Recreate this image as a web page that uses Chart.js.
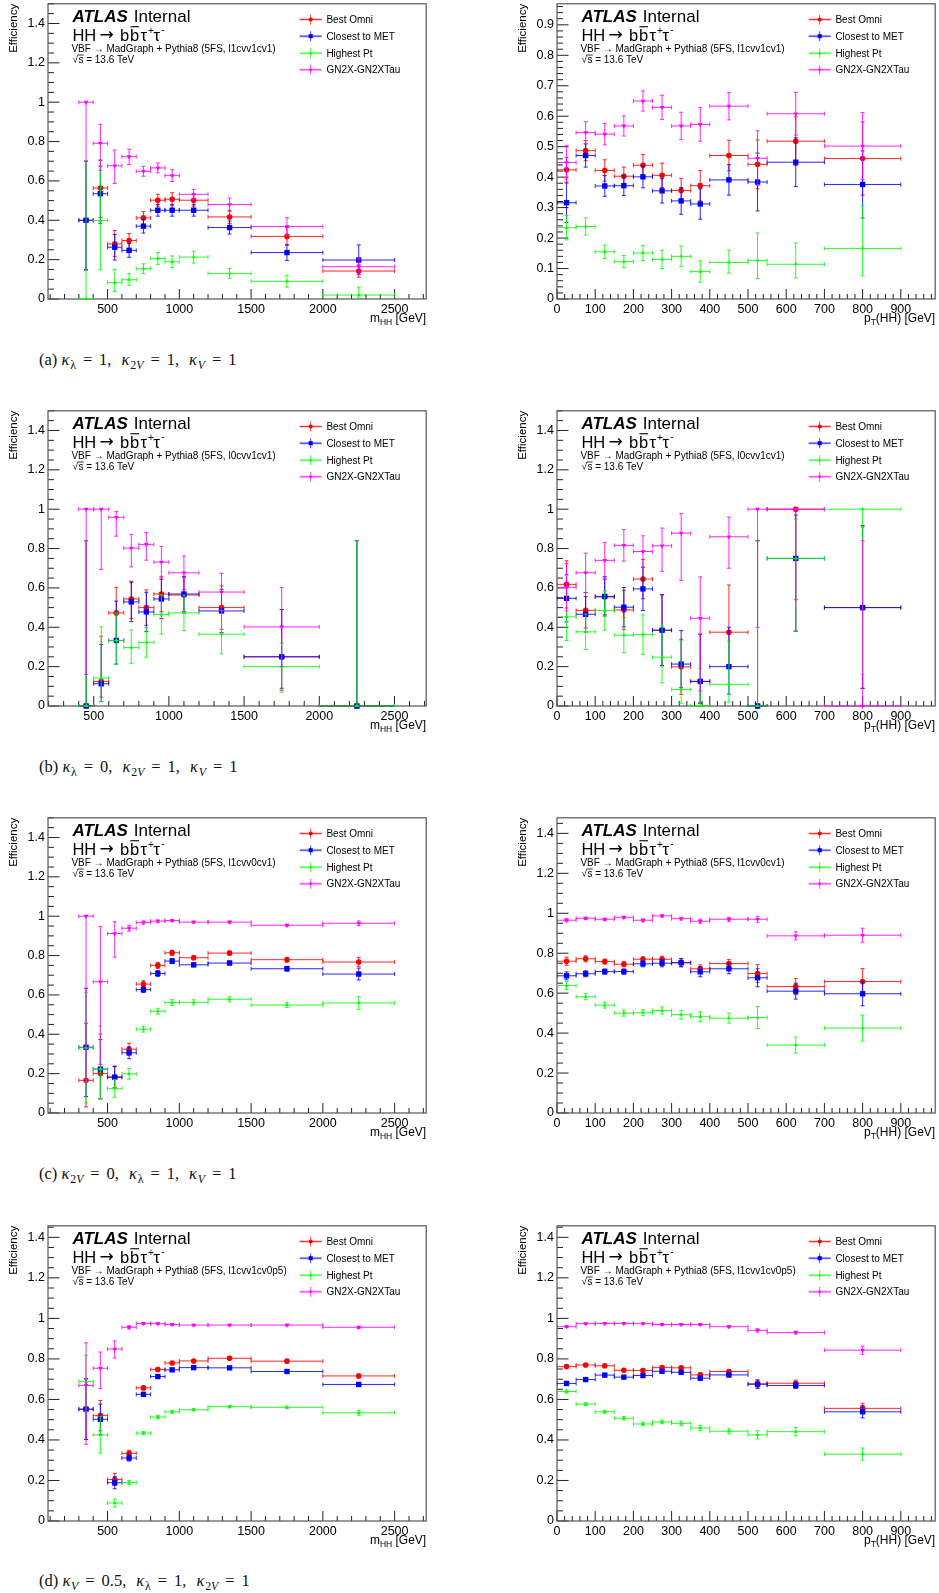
<!DOCTYPE html>
<html lang="en">
<head>
<meta charset="utf-8">
<title>Tau-pair reconstruction efficiency</title>
<script src="https://cdn.jsdelivr.net/npm/chart.js@4.4.1/dist/chart.umd.min.js"></script>
<style>
  html, body { margin: 0; padding: 0; background: #fff; }
  body { position: relative; width: 939px; height: 1593px; overflow: hidden; }
  canvas { position: absolute; }
  .caption { position: absolute; left: 39px; font-family: "Liberation Serif", "DejaVu Serif", serif;
             font-size: 16.5px; line-height: 20px; color: #111; white-space: nowrap; }
  .caption sub { font-size: 72%; vertical-align: -0.3em; line-height: 0; }
  .caption .eq { margin: 0 0.42em; }
  .caption .k { margin-right: 0.05em; }
  .caption .sep { margin-right: 0.36em; }
</style>
</head>
<body>
<div class="caption" style="top:350px">(a) <i class="k">κ</i><sub>λ</sub><span class="eq">=</span>1,<span class="sep"></span> <i class="k">κ</i><sub>2<i>V</i></sub><span class="eq">=</span>1,<span class="sep"></span> <i class="k">κ</i><sub><i>V</i></sub><span class="eq">=</span>1</div>
<div class="caption" style="top:757px">(b) <i class="k">κ</i><sub>λ</sub><span class="eq">=</span>0,<span class="sep"></span> <i class="k">κ</i><sub>2<i>V</i></sub><span class="eq">=</span>1,<span class="sep"></span> <i class="k">κ</i><sub><i>V</i></sub><span class="eq">=</span>1</div>
<div class="caption" style="top:1164px">(c) <i class="k">κ</i><sub>2<i>V</i></sub><span class="eq">=</span>0,<span class="sep"></span> <i class="k">κ</i><sub>λ</sub><span class="eq">=</span>1,<span class="sep"></span> <i class="k">κ</i><sub><i>V</i></sub><span class="eq">=</span>1</div>
<div class="caption" style="top:1571px">(d) <i class="k">κ</i><sub><i>V</i></sub><span class="eq">=</span>0.5,<span class="sep"></span> <i class="k">κ</i><sub>λ</sub><span class="eq">=</span>1,<span class="sep"></span> <i class="k">κ</i><sub>2<i>V</i></sub><span class="eq">=</span>1</div>
<script>
// ---- binning ----
const MHH_EDGES = [300, 400, 500, 600, 700, 800, 900, 1000, 1200, 1500, 2000, 2500];
const MHH_CENTERS = [350, 450, 550, 650, 750, 850, 950, 1100, 1350, 1750, 2250];
const PT_EDGES = [0, 50, 100, 150, 200, 250, 300, 350, 400, 500, 550, 700, 900];
const PT_CENTERS = [25, 75, 125, 175, 225, 275, 325, 375, 450, 525, 625, 800];

// ---- tick labels ----
const MHH_TICKS = [500, 1000, 1500, 2000, 2500];
const PT_TICKS = [0, 100, 200, 300, 400, 500, 600, 700, 800, 900];
const Y_TICKS = [0, 0.2, 0.4, 0.6, 0.8, 1, 1.2, 1.4];
const Y_TICKS_FINE = [0, 0.1, 0.2, 0.3, 0.4, 0.5, 0.6, 0.7, 0.8, 0.9];

const SERIES_NAMES = ['Best Omni', 'Closest to MET', 'Highest Pt', 'GN2X-GN2XTau'];
const SERIES_COLORS = ['#ff0000', '#0000ff', '#00ff00', '#ff00ff'];

// ---- efficiencies: [value, error down, error up] per bin ----
// (a) k_lambda = 1, k_2V = 1, k_V = 1
const A_MHH_OMNI = [[0.40,0.25,0.30],[0.564,0.15,0.14],[0.280,0.065,0.068],[0.297,0.04,0.036],[0.412,0.032,0.032],[0.502,0.03,0.03],[0.507,0.033,0.033],[0.502,0.03,0.03],[0.417,0.034,0.034],[0.318,0.045,0.045],[0.142,0.031,0.031]];
const A_MHH_MET = [[0.400,0.253,0.30],[0.535,0.15,0.14],[0.263,0.065,0.065],[0.247,0.035,0.035],[0.370,0.035,0.035],[0.451,0.03,0.03],[0.451,0.03,0.03],[0.451,0.03,0.03],[0.363,0.033,0.033],[0.236,0.04,0.04],[0.198,0.073,0.077]];
const A_MHH_PT = [[0.0,0,0.70],[0.399,0.25,0.31],[0.083,0.045,0.067],[0.098,0.028,0.03],[0.154,0.025,0.025],[0.206,0.03,0.03],[0.189,0.03,0.03],[0.213,0.03,0.03],[0.130,0.025,0.025],[0.090,0.03,0.03],[0.020,0.015,0.04]];
const A_MHH_GN2X = [[1.0,0.30,0],[0.791,0.137,0.097],[0.677,0.09,0.08],[0.723,0.04,0.038],[0.649,0.025,0.025],[0.666,0.025,0.025],[0.627,0.03,0.03],[0.532,0.025,0.025],[0.480,0.035,0.033],[0.368,0.045,0.045],[0.164,0.04,0.04]];
const A_PT_OMNI = [[0.424,0.04,0.04],[0.487,0.033,0.033],[0.422,0.035,0.035],[0.403,0.03,0.03],[0.439,0.035,0.035],[0.406,0.04,0.04],[0.356,0.04,0.04],[0.372,0.05,0.05],[0.471,0.05,0.05],[0.442,0.08,0.08],[0.518,0.08,0.08],[0.461,0.12,0.12]];
const A_PT_MET = [[0.316,0.065,0.065],[0.471,0.038,0.038],[0.371,0.034,0.034],[0.372,0.032,0.032],[0.401,0.036,0.036],[0.355,0.04,0.04],[0.322,0.044,0.044],[0.312,0.05,0.05],[0.391,0.05,0.05],[0.384,0.095,0.095],[0.449,0.08,0.08],[0.376,0.11,0.11]];
const A_PT_PT = [[0.234,0.04,0.04],[0.238,0.028,0.028],[0.155,0.022,0.022],[0.123,0.02,0.02],[0.151,0.025,0.025],[0.130,0.03,0.03],[0.140,0.034,0.034],[0.090,0.035,0.035],[0.120,0.035,0.04],[0.127,0.06,0.09],[0.114,0.045,0.07],[0.166,0.09,0.14]];
const A_PT_GN2X = [[0.448,0.055,0.055],[0.546,0.036,0.036],[0.541,0.035,0.035],[0.568,0.033,0.033],[0.650,0.033,0.033],[0.629,0.04,0.04],[0.568,0.045,0.045],[0.573,0.055,0.055],[0.633,0.045,0.045],[0.462,0.09,0.09],[0.608,0.07,0.07],[0.502,0.11,0.11]];

// (b) k_lambda = 0, k_2V = 1, k_V = 1
const B_MHH_OMNI = [null,[0,0,0.84],[0.125,0.08,0.23],[0.473,0.13,0.13],[0.544,0.1,0.09],[0.500,0.09,0.09],[0.569,0.09,0.09],[0.564,0.09,0.09],[0.500,0.11,0.11],[0.25,0.17,0.24],[0,0,0.84]];
const B_MHH_MET = [null,[0,0,0.84],[0.113,0.09,0.2],[0.333,0.12,0.2],[0.529,0.1,0.1],[0.478,0.1,0.1],[0.544,0.1,0.1],[0.569,0.09,0.09],[0.483,0.11,0.11],[0.25,0.16,0.24],[0,0,0.84]];
const B_MHH_PT = [null,[0,0,0.84],[0.142,0.12,0.26],[0.333,0.12,0.14],[0.297,0.08,0.09],[0.323,0.075,0.075],[0.465,0.1,0.1],[0.473,0.09,0.09],[0.365,0.1,0.12],[0.2,0.13,0.12],[0,0,0.84]];
const B_MHH_GN2X = [null,[1,0.84,0],[1,0.306,0],[0.959,0.096,0.03],[0.802,0.095,0.07],[0.821,0.08,0.06],[0.731,0.08,0.08],[0.677,0.085,0.085],[0.579,0.095,0.095],[0.402,0.2,0.2],null];
const B_PT_OMNI = [[0.618,0.12,0.12],[0.486,0.09,0.09],[0.554,0.09,0.09],[0.488,0.1,0.1],[0.645,0.1,0.1],[0.385,0.18,0.18],[0.199,0.14,0.14],[0.125,0.11,0.24],[0.375,0.17,0.24],[0,0,0.84],[1,0.62,0],[0.5,0.41,0.41]];
const B_PT_MET = [[0.547,0.12,0.12],[0.466,0.09,0.09],[0.557,0.1,0.1],[0.502,0.1,0.1],[0.595,0.11,0.11],[0.385,0.18,0.18],[0.213,0.12,0.17],[0.125,0.11,0.24],[0.2,0.14,0.2],[0,0,0.84],[0.75,0.37,0.22],[0.5,0.41,0.417]];
const B_PT_PT = [[0.453,0.12,0.12],[0.377,0.09,0.09],[0.485,0.1,0.1],[0.36,0.09,0.09],[0.363,0.1,0.1],[0.248,0.13,0.16],[0.084,0.07,0.25],[0,0,0.19],[0.11,0.09,0.22],[0,0,0.84],[0.75,0.37,0.2],[1,0.84,0]];
const B_PT_GN2X = [[0.603,0.12,0.12],[0.677,0.1,0.1],[0.74,0.09,0.09],[0.816,0.08,0.08],[0.785,0.08,0.08],[0.814,0.13,0.09],[0.878,0.24,0.1],[0.446,0.37,0.21],[0.86,0.16,0.1],[1,0.6,0],[1,0.46,0],[0,0,0.84]];

// (c) k_2V = 0, k_lambda = 1, k_V = 1
const C_MHH_OMNI = [[0.166,0.135,0.29],[0.201,0.13,0.2],[0.184,0.055,0.055],[0.324,0.03,0.03],[0.655,0.017,0.017],[0.75,0.015,0.015],[0.814,0.013,0.013],[0.789,0.01,0.01],[0.8125,0.01,0.01],[0.779,0.012,0.012],[0.767,0.024,0.024]];
const C_MHH_MET = [[0.334,0.25,0.3],[0.223,0.15,0.15],[0.181,0.055,0.055],[0.306,0.03,0.03],[0.627,0.015,0.015],[0.709,0.015,0.015],[0.772,0.013,0.013],[0.753,0.01,0.01],[0.762,0.01,0.01],[0.733,0.012,0.012],[0.706,0.03,0.03]];
const C_MHH_PT = [[0.331,0.28,0.28],[0.223,0.15,0.22],[0.125,0.045,0.045],[0.199,0.027,0.027],[0.426,0.015,0.015],[0.517,0.015,0.015],[0.561,0.015,0.015],[0.5625,0.013,0.013],[0.578,0.013,0.013],[0.549,0.013,0.013],[0.559,0.032,0.032]];
const C_MHH_GN2X = [[1,0.84,0],[0.667,0.42,0.28],[0.912,0.12,0.06],[0.939,0.015,0.015],[0.968,0.008,0.008],[0.975,0.006,0.006],[0.978,0.005,0.005],[0.97,0.005,0.005],[0.97,0.006,0.006],[0.954,0.006,0.006],[0.964,0.012,0.012]];
const C_PT_OMNI = [[0.76,0.02,0.02],[0.772,0.015,0.015],[0.758,0.012,0.012],[0.745,0.013,0.013],[0.77,0.012,0.012],[0.77,0.015,0.015],[0.753,0.02,0.02],[0.722,0.02,0.02],[0.748,0.02,0.02],[0.698,0.045,0.045],[0.633,0.04,0.04],[0.658,0.065,0.065]];
const C_PT_MET = [[0.687,0.02,0.02],[0.697,0.015,0.015],[0.708,0.013,0.013],[0.708,0.013,0.013],[0.747,0.015,0.015],[0.75,0.018,0.018],[0.752,0.02,0.02],[0.707,0.025,0.025],[0.722,0.025,0.025],[0.677,0.045,0.045],[0.61,0.04,0.04],[0.597,0.06,0.06]];
const C_PT_PT = [[0.638,0.02,0.02],[0.582,0.015,0.015],[0.54,0.015,0.015],[0.5,0.015,0.015],[0.502,0.015,0.015],[0.513,0.018,0.018],[0.492,0.022,0.022],[0.482,0.025,0.025],[0.475,0.025,0.025],[0.478,0.055,0.055],[0.34,0.04,0.04],[0.425,0.065,0.065]];
const C_PT_GN2X = [[0.965,0.008,0.008],[0.975,0.006,0.006],[0.97,0.006,0.006],[0.98,0.006,0.006],[0.965,0.007,0.007],[0.987,0.006,0.006],[0.973,0.007,0.007],[0.96,0.01,0.01],[0.97,0.01,0.01],[0.97,0.015,0.015],[0.887,0.02,0.02],[0.89,0.035,0.035]];

// (d) k_V = 0.5, k_lambda = 1, k_2V = 1
const D_MHH_OMNI = [[0.552,0.15,0.15],[0.52,0.075,0.075],[0.205,0.03,0.03],[0.334,0.015,0.015],[0.657,0.01,0.01],[0.748,0.008,0.008],[0.78,0.007,0.007],[0.79,0.006,0.006],[0.803,0.006,0.006],[0.789,0.006,0.006],[0.716,0.01,0.01]];
const D_MHH_MET = [[0.552,0.15,0.15],[0.502,0.075,0.075],[0.189,0.03,0.03],[0.311,0.015,0.015],[0.625,0.01,0.01],[0.713,0.008,0.008],[0.746,0.007,0.007],[0.757,0.006,0.006],[0.756,0.006,0.006],[0.738,0.006,0.006],[0.674,0.01,0.01]];
const D_MHH_PT = [[0.688,0.15,0.13],[0.425,0.09,0.09],[0.089,0.02,0.02],[0.19,0.01,0.01],[0.434,0.008,0.008],[0.513,0.008,0.008],[0.539,0.007,0.007],[0.549,0.006,0.006],[0.564,0.006,0.006],[0.561,0.006,0.006],[0.534,0.012,0.012]];
const D_MHH_GN2X = [[0.669,0.29,0.21],[0.754,0.1,0.08],[0.849,0.045,0.04],[0.956,0.008,0.008],[0.975,0.005,0.005],[0.974,0.005,0.005],[0.97,0.005,0.005],[0.967,0.004,0.004],[0.967,0.004,0.004],[0.967,0.004,0.004],[0.956,0.006,0.006]];
const D_PT_OMNI = [[0.762,0.008,0.008],[0.77,0.007,0.007],[0.766,0.007,0.007],[0.744,0.007,0.007],[0.743,0.007,0.007],[0.757,0.008,0.008],[0.756,0.009,0.009],[0.721,0.01,0.01],[0.738,0.01,0.01],[0.677,0.02,0.02],[0.68,0.015,0.015],[0.556,0.025,0.025]];
const D_PT_MET = [[0.679,0.008,0.008],[0.698,0.007,0.007],[0.72,0.007,0.007],[0.71,0.007,0.007],[0.718,0.007,0.007],[0.739,0.008,0.008],[0.734,0.009,0.009],[0.705,0.01,0.01],[0.721,0.01,0.01],[0.675,0.02,0.02],[0.669,0.015,0.015],[0.539,0.03,0.03]];
const D_PT_PT = [[0.639,0.008,0.008],[0.577,0.007,0.007],[0.539,0.007,0.007],[0.507,0.008,0.008],[0.479,0.008,0.008],[0.489,0.009,0.009],[0.482,0.01,0.01],[0.459,0.012,0.012],[0.443,0.012,0.012],[0.425,0.02,0.02],[0.441,0.02,0.02],[0.33,0.03,0.03]];
const D_PT_GN2X = [[0.959,0.004,0.004],[0.974,0.003,0.003],[0.975,0.003,0.003],[0.975,0.003,0.003],[0.974,0.003,0.003],[0.97,0.004,0.004],[0.97,0.004,0.004],[0.97,0.005,0.005],[0.959,0.005,0.005],[0.941,0.008,0.008],[0.93,0.007,0.007],[0.843,0.02,0.02]];

// ---- pad layout ----
const PANELS = [
  { left: 0,   top: 0,    axis: 'mhh', xRange: [85, 2720],  yMax: 1.5,   yTicks: Y_TICKS,      yMinor: 0.05, tag: 'l1cvv1cv1',   series: [A_MHH_OMNI, A_MHH_MET, A_MHH_PT, A_MHH_GN2X] },
  { left: 508, top: 0,    axis: 'pt',  xRange: [0, 990],    yMax: 0.969, yTicks: Y_TICKS_FINE, yMinor: 0.02, tag: 'l1cvv1cv1',   series: [A_PT_OMNI, A_PT_MET, A_PT_PT, A_PT_GN2X] },
  { left: 0,   top: 407,  axis: 'mhh', xRange: [196, 2711], yMax: 1.5,   yTicks: Y_TICKS,      yMinor: 0.05, tag: 'l0cvv1cv1',   series: [B_MHH_OMNI, B_MHH_MET, B_MHH_PT, B_MHH_GN2X] },
  { left: 508, top: 407,  axis: 'pt',  xRange: [0, 990],    yMax: 1.5,   yTicks: Y_TICKS,      yMinor: 0.05, tag: 'l0cvv1cv1',   series: [B_PT_OMNI, B_PT_MET, B_PT_PT, B_PT_GN2X] },
  { left: 0,   top: 814,  axis: 'mhh', xRange: [85, 2720],  yMax: 1.5,   yTicks: Y_TICKS,      yMinor: 0.05, tag: 'l1cvv0cv1',   series: [C_MHH_OMNI, C_MHH_MET, C_MHH_PT, C_MHH_GN2X] },
  { left: 508, top: 814,  axis: 'pt',  xRange: [0, 990],    yMax: 1.478, yTicks: Y_TICKS,      yMinor: 0.05, tag: 'l1cvv0cv1',   series: [C_PT_OMNI, C_PT_MET, C_PT_PT, C_PT_GN2X] },
  { left: 0,   top: 1222, axis: 'mhh', xRange: [85, 2720],  yMax: 1.457, yTicks: Y_TICKS,      yMinor: 0.05, tag: 'l1cvv1cv0p5', series: [D_MHH_OMNI, D_MHH_MET, D_MHH_PT, D_MHH_GN2X] },
  { left: 508, top: 1222, axis: 'pt',  xRange: [0, 990],    yMax: 1.457, yTicks: Y_TICKS,      yMinor: 0.05, tag: 'l1cvv1cv0p5', series: [D_PT_OMNI, D_PT_MET, D_PT_PT, D_PT_GN2X] }
];

const SANS = '"Liberation Sans", Arial, Helvetica, sans-serif';
const MARKERS = [
  { pointStyle: 'circle',   radius: 2.8, rotation: 0 },
  { pointStyle: 'rect',     radius: 3.8, rotation: 0 },
  { pointStyle: 'triangle', radius: 2.2, rotation: 0 },
  { pointStyle: 'triangle', radius: 2.7, rotation: 180 }
];

// error bars (horizontal = bin width, vertical = efficiency uncertainty) drawn just before each graph's markers
function drawErrorBars(chart, index) {
  const ds = chart.data.datasets[index];
  const xs = chart.scales.x, ys = chart.scales.y, a = chart.chartArea, ctx = chart.ctx;
  ctx.save();
  ctx.beginPath();
  ctx.rect(a.left, a.top - 1, a.right - a.left, a.bottom - a.top + 2);
  ctx.clip();
  ctx.strokeStyle = ds.borderColor;
  ctx.globalAlpha = 0.85;
  ctx.lineWidth = 1;
  const cap = 2;
  ds.bars.forEach(b => {
    const x = xs.getPixelForValue(b.x), y = ys.getPixelForValue(b.y);
    const xl = xs.getPixelForValue(b.lo), xh = xs.getPixelForValue(b.hi);
    ctx.beginPath();
    ctx.moveTo(xl, y); ctx.lineTo(xh, y);
    ctx.moveTo(xl, y - cap); ctx.lineTo(xl, y + cap);
    ctx.moveTo(xh, y - cap); ctx.lineTo(xh, y + cap);
    if (b.dn > 0 || b.up > 0) {
      const yl = ys.getPixelForValue(b.y - b.dn), yh = ys.getPixelForValue(b.y + b.up);
      ctx.moveTo(x, yl); ctx.lineTo(x, yh);
      ctx.moveTo(x - cap, yl); ctx.lineTo(x + cap, yl);
      ctx.moveTo(x - cap, yh); ctx.lineTo(x + cap, yh);
    }
    ctx.stroke();
  });
  ctx.restore();
}

function drawMarker(ctx, i, x, y, s) {
  ctx.fillStyle = SERIES_COLORS[i];
  ctx.beginPath();
  if (i === 0) ctx.arc(x, y, 2.4 * s, 0, Math.PI * 2);
  else if (i === 1) ctx.rect(x - 2.4 * s, y - 2.4 * s, 4.8 * s, 4.8 * s);
  else if (i === 2) { ctx.moveTo(x, y - 2 * s); ctx.lineTo(x + 1.8 * s, y + 1.2 * s); ctx.lineTo(x - 1.8 * s, y + 1.2 * s); ctx.closePath(); }
  else { ctx.moveTo(x, y + 2.3 * s); ctx.lineTo(x + 2.1 * s, y - 1.3 * s); ctx.lineTo(x - 2.1 * s, y - 1.3 * s); ctx.closePath(); }
  ctx.fill();
}

function drawFrameAndTicks(chart, p) {
  const ctx = chart.ctx, a = chart.chartArea, xs = chart.scales.x, ys = chart.scales.y;
  ctx.save();
  ctx.strokeStyle = '#222';
  ctx.lineWidth = 1;
  ctx.beginPath();
  // y axis ticks (inside the frame)
  p.yTicks.forEach(v => { const y = ys.getPixelForValue(v); ctx.moveTo(a.left, y); ctx.lineTo(a.left + 11.5, y); });
  for (let k = 0; k * p.yMinor <= p.yMax + 1e-9; k++) {
    const v = k * p.yMinor;
    if (p.yTicks.some(t => Math.abs(t - v) < 1e-6)) continue;
    const y = ys.getPixelForValue(v);
    ctx.moveTo(a.left, y); ctx.lineTo(a.left + 6, y);
  }
  // x axis ticks
  const xt = p.axis === 'mhh' ? MHH_TICKS : PT_TICKS;
  const step = p.axis === 'mhh' ? 100 : 20;
  xt.forEach(v => { const x = xs.getPixelForValue(v); ctx.moveTo(x, a.bottom); ctx.lineTo(x, a.bottom - 10); });
  for (let v = Math.ceil(p.xRange[0] / step) * step; v <= p.xRange[1]; v += step) {
    if (xt.includes(v)) continue;
    const x = xs.getPixelForValue(v);
    ctx.moveTo(x, a.bottom); ctx.lineTo(x, a.bottom - 5);
  }
  ctx.stroke();
  ctx.strokeStyle = '#555';
  ctx.lineWidth = 1.2;
  ctx.strokeRect(a.left, a.top, a.right - a.left, a.bottom - a.top);
  ctx.restore();
}

function drawLabels(chart, p) {
  const ctx = chart.ctx, a = chart.chartArea;
  ctx.save();
  ctx.fillStyle = '#000';
  ctx.textAlign = 'left';
  ctx.textBaseline = 'alphabetic';
  const x0 = a.left + 24.4, t = a.top;

  ctx.font = 'italic bold 17px ' + SANS;
  ctx.fillText('ATLAS', x0, t + 18.4);
  ctx.font = '17px ' + SANS;
  ctx.fillText('Internal', x0 + 61.3, t + 18.4);

  // HH -> b bbar tau+ tau-
  const yb = t + 36.7;
  ctx.font = '16.5px ' + SANS;
  ctx.fillText('HH', x0, yb);
  ctx.font = '17px "DejaVu Sans", sans-serif';
  ctx.fillText('\u2192', x0 + 27, yb - 0.5);
  ctx.font = '16.5px ' + SANS;
  ctx.fillText('b', x0 + 47.5, yb);
  ctx.fillText('b', x0 + 57.5, yb);
  ctx.fillRect(x0 + 58, yb - 14.3, 8.6, 1.1);
  ctx.fillText('\u03c4', x0 + 68, yb);
  ctx.fillText('\u03c4', x0 + 81, yb);
  ctx.font = '10px ' + SANS;
  ctx.fillText('+', x0 + 75.6, yb - 7);
  ctx.fillText('-', x0 + 88.8, yb - 8);

  ctx.font = '10px ' + SANS;
  ctx.fillText('VBF \u2192 MadGraph + Pythia8 (5FS, ' + p.tag + ')', x0 - 1, t + 48.4);
  const yr = t + 59.4;
  ctx.fillText('\u221a', x0, yr);
  ctx.fillText('s = 13.6 TeV', x0 + 6, yr);
  ctx.fillRect(x0 + 5.2, yr - 8.6, 6, 0.8);

  // legend
  const rows = [15.7, 32.4, 49.4, 66];
  SERIES_NAMES.forEach((name, i) => {
    const y = t + rows[i], xm = a.left + 262.7;
    ctx.save();
    ctx.strokeStyle = SERIES_COLORS[i];
    ctx.globalAlpha = 0.25; ctx.lineWidth = 2.6;
    ctx.beginPath(); ctx.moveTo(xm - 11, y); ctx.lineTo(xm + 11, y); ctx.stroke();
    ctx.globalAlpha = 0.75; ctx.lineWidth = 1;
    ctx.beginPath(); ctx.moveTo(xm - 11, y); ctx.lineTo(xm + 11, y);
    ctx.moveTo(xm, y - 5); ctx.lineTo(xm, y + 5); ctx.stroke();
    ctx.restore();
    drawMarker(ctx, i, xm, y, 0.85);
    ctx.fillStyle = '#000';
    ctx.font = '10px ' + SANS;
    ctx.fillText(name, a.left + 278.4, y + 3.6);
  });

  // x axis title, right aligned to the frame
  const yt = a.bottom + 23;
  const big = '12px ' + SANS, small = '8.5px ' + SANS;
  let parts;
  if (p.axis === 'mhh') parts = [['m', big, 0], ['HH', small, 3], [' [GeV]', big, 0]];
  else parts = [['p', big, 0], ['T', small, 3], ['(HH) [GeV]', big, 0]];
  let w = 0;
  parts.forEach(pt => { ctx.font = pt[1]; w += ctx.measureText(pt[0]).width; });
  let xx = a.right - w;
  parts.forEach(pt => { ctx.font = pt[1]; ctx.fillText(pt[0], xx, yt + pt[2]); xx += ctx.measureText(pt[0]).width; });

  // y axis title, ending at the top of the frame
  ctx.save();
  ctx.translate(a.left - 34.3, a.top);
  ctx.rotate(-Math.PI / 2);
  ctx.font = '11.5px ' + SANS;
  ctx.textAlign = 'right';
  ctx.textBaseline = 'middle';
  ctx.fillText('Efficiency', 0, 0);
  ctx.restore();
  ctx.restore();
}

const rootStyle = {
  id: 'rootStyle',
  beforeDatasetsDraw(chart) { drawFrameAndTicks(chart, chart.options.plugins.rootStyle.panel); },
  beforeDatasetDraw(chart, args) { drawErrorBars(chart, args.index); },
  afterDraw(chart) { drawLabels(chart, chart.options.plugins.rootStyle.panel); }
};

PANELS.forEach(p => {
  const isLeft = p.left === 0;
  const canvas = document.createElement('canvas');
  canvas.width = isLeft ? 430 : 431;
  canvas.height = 331;
  canvas.style.left = p.left + 'px';
  canvas.style.top = p.top + 'px';
  canvas.style.width = canvas.width + 'px';
  canvas.style.height = canvas.height + 'px';
  document.body.appendChild(canvas);

  const centers = p.axis === 'mhh' ? MHH_CENTERS : PT_CENTERS;
  const edges = p.axis === 'mhh' ? MHH_EDGES : PT_EDGES;
  const xTicks = p.axis === 'mhh' ? MHH_TICKS : PT_TICKS;
  const yWidth = isLeft ? 48 : 49;

  const datasets = p.series.map((s, i) => {
    const pts = [], bars = [];
    s.forEach((e, j) => {
      if (!e) return;
      pts.push({ x: centers[j], y: e[0] });
      bars.push({ x: centers[j], y: e[0], dn: e[1], up: e[2], lo: edges[j], hi: edges[j + 1] });
    });
    return {
      label: SERIES_NAMES[i],
      data: pts,
      bars: bars,
      order: 4 - i,
      borderColor: SERIES_COLORS[i],
      backgroundColor: SERIES_COLORS[i],
      pointStyle: MARKERS[i].pointStyle,
      pointRadius: MARKERS[i].radius,
      pointRotation: MARKERS[i].rotation,
      pointBorderWidth: 0,
      pointHoverRadius: MARKERS[i].radius,
      showLine: false,
      clip: false
    };
  });

  new Chart(canvas, {
    type: 'scatter',
    data: { datasets },
    options: {
      responsive: false,
      animation: false,
      devicePixelRatio: 1,
      events: [],
      layout: { padding: { top: 3, right: 1, left: 0, bottom: 0 } },
      plugins: { legend: { display: false }, tooltip: { enabled: false }, rootStyle: { panel: p } },
      scales: {
        x: {
          type: 'linear', min: p.xRange[0], max: p.xRange[1],
          grid: { display: false, drawTicks: false }, border: { display: false },
          ticks: { autoSkip: false, maxRotation: 0, padding: 3, color: '#000',
                   font: { family: SANS, size: 12.5 }, callback: v => String(v) },
          afterBuildTicks: s => { s.ticks = xTicks.map(v => ({ value: v })); },
          afterFit: s => { s.height = 32; s.paddingLeft = 0; s.paddingRight = 0; }
        },
        y: {
          type: 'linear', min: 0, max: p.yMax,
          grid: { display: false, drawTicks: false }, border: { display: false },
          ticks: { autoSkip: false, padding: 3, color: '#000',
                   font: { family: SANS, size: 12.5 }, callback: v => String(+v.toFixed(2)) },
          afterBuildTicks: s => { s.ticks = p.yTicks.map(v => ({ value: v })); },
          afterFit: s => { s.width = yWidth; s.paddingTop = 0; s.paddingBottom = 0; }
        }
      }
    },
    plugins: [rootStyle]
  });
});
</script>
</body>
</html>
